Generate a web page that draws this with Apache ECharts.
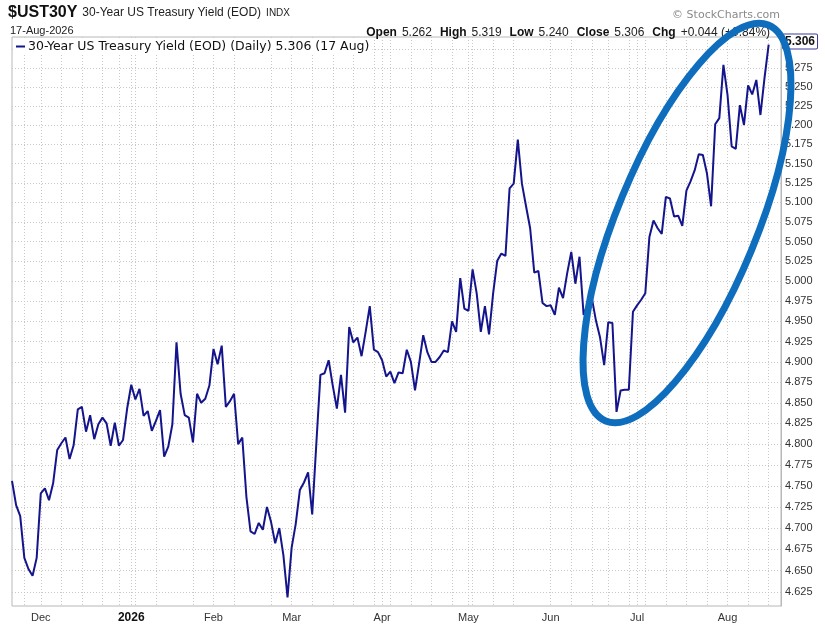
<!DOCTYPE html>
<html>
<head>
<meta charset="utf-8">
<script src="https://cdn.jsdelivr.net/npm/echarts@6/dist/echarts.min.js"></script>
<style>
  html, body { margin: 0; padding: 0; background: #fff; }
  #chart { width: 825px; height: 628px; }
</style>
</head>
<body>
<div id="chart"></div>
<script>
// trading-day calendar, 19-Nov-2025 .. 20-Aug-2026 (last 3 days left empty)
var startDate = '2025-11-19';
var endDate = '2026-08-20';
var holidays = ['2025-11-27', '2025-12-25', '2026-01-01', '2026-01-19', '2026-02-16',
                '2026-04-03', '2026-05-25', '2026-06-19', '2026-07-03'];
var monthNames = ['Jan','Feb','Mar','Apr','May','Jun','Jul','Aug','Sep','Oct','Nov','Dec'];

// daily closes
var yields = [
  4.756, 4.727, 4.714, 4.665, 4.652, 4.644, 4.665, 4.741, 4.747, 4.733,
  4.753, 4.793, 4.801, 4.808, 4.782, 4.799, 4.842, 4.845, 4.815, 4.835,
  4.806, 4.824, 4.832, 4.825, 4.798, 4.826, 4.798, 4.805, 4.843, 4.872,
  4.854, 4.867, 4.834, 4.840, 4.816, 4.828, 4.841, 4.785, 4.797, 4.824,
  4.924, 4.861, 4.835, 4.832, 4.802, 4.861, 4.850, 4.855, 4.871, 4.916,
  4.897, 4.920, 4.845, 4.852, 4.861, 4.800, 4.808, 4.737, 4.696, 4.693,
  4.706, 4.698, 4.725, 4.707, 4.682, 4.700, 4.668, 4.619, 4.677, 4.705,
  4.745, 4.754, 4.766, 4.716, 4.800, 4.884, 4.886, 4.902, 4.871, 4.843,
  4.884, 4.838, 4.943, 4.924, 4.930, 4.907, 4.937, 4.969, 4.915, 4.912,
  4.902, 4.882, 4.888, 4.874, 4.887, 4.886, 4.915, 4.900, 4.865, 4.898,
  4.933, 4.912, 4.900, 4.900, 4.906, 4.914, 4.912, 4.950, 4.937, 5.004,
  4.966, 4.963, 5.015, 4.985, 4.937, 4.969, 4.934, 4.985, 5.026, 5.035,
  5.032, 5.118, 5.124, 5.181, 5.124, 5.095, 5.067, 5.011, 5.013, 4.973,
  4.969, 4.970, 4.958, 4.992, 4.979, 5.010, 5.037, 4.997, 5.031, 4.958,
  4.972, 4.979, 4.951, 4.930, 4.896, 4.949, 4.948, 4.839, 4.865, 4.866,
  4.866, 4.962, 4.970, 4.977, 4.985, 5.056, 5.077, 5.067, 5.060, 5.107,
  5.105, 5.082, 5.083, 5.070, 5.115, 5.127, 5.141, 5.162, 5.161, 5.137,
  5.095, 5.201, 5.209, 5.279, 5.239, 5.172, 5.169, 5.226, 5.200, 5.252,
  5.240, 5.259, 5.213, 5.262, 5.306
];

var yTicks = [4.625, 4.650, 4.675, 4.700, 4.725, 4.750, 4.775, 4.800, 4.825, 4.850,
              4.875, 4.900, 4.925, 4.950, 4.975, 5.000, 5.025, 5.050, 5.075, 5.100,
              5.125, 5.150, 5.175, 5.200, 5.225, 5.250, 5.275, 5.300];
var yLabels = yTicks.slice(0, yTicks.length - 1); // 5.300 sits under the price tag

var lastClose = 5.306;
var quote = { open: '5.262', high: '5.319', low: '5.240', close: '5.306', chg: '+0.044', pct: '+0.84%' };

function pad(n) { return (n < 10 ? '0' : '') + n; }
function isoDay(d) { return d.getUTCFullYear() + '-' + pad(d.getUTCMonth() + 1) + '-' + pad(d.getUTCDate()); }

var days = [];
(function () {
  var d = new Date(startDate + 'T00:00:00Z');
  var end = new Date(endDate + 'T00:00:00Z');
  while (d <= end) {
    var wd = d.getUTCDay();
    var s = isoDay(d);
    if (wd !== 0 && wd !== 6 && holidays.indexOf(s) < 0) days.push(s);
    d.setUTCDate(d.getUTCDate() + 1);
  }
})();

function monthOf(s) { return parseInt(s.substr(5, 2), 10); }
function isMonthStart(i) { return i > 0 && monthOf(days[i]) !== monthOf(days[i - 1]); }
function isMonday(i) { return new Date(days[i] + 'T00:00:00Z').getUTCDay() === 1; }

var lineColor = '#14148c';
var font = 'Liberation Sans';

var chart = echarts.init(document.getElementById('chart'), null, { renderer: 'canvas' });

var option = {
  animation: false,
  backgroundColor: '#fff',
  title: [
    {
      text: '{a|$UST30Y} {b|30-Year US Treasury Yield (EOD)} {c|INDX}',
      left: 8, top: 4, padding: 0,
      textStyle: {
        fontWeight: 'normal',
        rich: {
          a: { fontFamily: font, fontWeight: 'bold', fontSize: 16, color: '#111' },
          b: { fontFamily: font, fontWeight: 'normal', fontSize: 12, color: '#222' },
          c: { fontFamily: font, fontWeight: 'normal', fontSize: 10, color: '#222' }
        }
      }
    },
    {
      text: '17-Aug-2026', left: 10, top: 25, padding: 0,
      textStyle: { fontFamily: font, fontSize: 11, fontWeight: 'normal', color: '#222' }
    },
    {
      text: '{k|Open} {v|' + quote.open + '} {k|High} {v|' + quote.high + '} {k|Low} {v|' + quote.low +
            '} {k|Close} {v|' + quote.close + '} {k|Chg} {v|' + quote.chg + ' (' + quote.pct + ')} {t|▲}',
      right: 45, top: 24, padding: 0,
      textStyle: {
        fontWeight: 'normal',
        rich: {
          k: { fontFamily: font, fontWeight: 'bold', fontSize: 12, color: '#111', padding: [0, 0, 0, 3] },
          v: { fontFamily: font, fontWeight: 'normal', fontSize: 12, color: '#222' },
          t: { fontFamily: font, fontWeight: 'normal', fontSize: 8, color: '#2f9a3a' }
        }
      }
    },
    {
      text: '© StockCharts.com', right: 45, top: 10, padding: 0,
      textStyle: { fontFamily: 'DejaVu Sans', fontSize: 11, fontWeight: 'normal', color: '#8a8a8a' }
    }
  ],
  legend: {
    left: 13, top: 39, padding: [1, 3],
    backgroundColor: '#fff',
    icon: 'rect', itemWidth: 9, itemHeight: 2, itemGap: 4,
    textStyle: { fontFamily: 'DejaVu Sans', fontSize: 12.5, color: '#111', padding: [0, 0, 0, -2] },
    formatter: function (name) { return name + ' (Daily) ' + lastClose.toFixed(3) + ' (17 Aug)'; },
    data: ['30-Year US Treasury Yield (EOD)']
  },
  grid: {
    left: 12, right: 44, top: 37, bottom: 22,
    show: true, borderColor: '#b8b8b8', borderWidth: 1,
    outerBoundsMode: 'none'
  },
  xAxis: {
    type: 'category',
    data: days,
    boundaryGap: false,
    axisLine: { show: false },
    axisTick: { show: false },
    axisLabel: {
      interval: function (i) { return isMonthStart(i); },
      margin: 6,
      fontFamily: font, fontSize: 11, color: '#333',
      formatter: function (v) {
        var m = monthOf(v);
        if (m === 1) return '{y|' + v.substr(0, 4) + '}';
        return monthNames[m - 1];
      },
      rich: { y: { fontFamily: font, fontSize: 12, fontWeight: 'bold', color: '#111' } }
    },
    splitLine: {
      show: true,
      interval: function (i) { return isMonday(i) || isMonthStart(i); },
      lineStyle: { type: [1, 2], color: '#c8c8c8', width: 1 }
    }
  },
  yAxis: {
    type: 'log',
    logBase: 10,
    position: 'right',
    min: 4.609,
    max: 5.316,
    axisLine: { show: true, lineStyle: { color: '#b8b8b8' } },
    axisTick: { show: false, customValues: yTicks },
    axisLabel: {
      customValues: yLabels,
      margin: 4,
      fontFamily: font, fontSize: 11, color: '#333',
      formatter: function (v) { return Number(v).toFixed(3); }
    },
    splitLine: { show: true, lineStyle: { type: [1, 2], color: '#c8c8c8', width: 1 } }
  },
  series: [
    {
      name: '30-Year US Treasury Yield (EOD)',
      type: 'line',
      data: yields,
      showSymbol: false,
      symbol: 'none',
      lineStyle: { color: lineColor, width: 2 },
      itemStyle: { color: lineColor },
      markLine: {
        silent: true,
        symbol: 'none',
        lineStyle: { color: 'rgba(0,0,0,0)', width: 0, type: 'solid' },
        label: {
          show: true, position: 'end', distance: 2,
          formatter: function () { return lastClose.toFixed(3); },
          fontFamily: font, fontSize: 12, fontWeight: 'bold', color: '#111',
          backgroundColor: '#fff', borderColor: '#3a3aa0', borderWidth: 1, borderRadius: 1,
          padding: [2, 2, 0, 2]
        },
        data: [{ yAxis: lastClose }]
      }
    }
  ],
  graphic: [
    {
      type: 'ellipse',
      x: 687, y: 223,
      rotation: -0.39,
      shape: { cx: 0, cy: 0, rx: 70, ry: 214 },
      style: { fill: 'none', stroke: '#0e6dbd', lineWidth: 7 },
      z: 100,
      silent: true
    }
  ]
};

chart.setOption(option);
</script>
</body>
</html>
